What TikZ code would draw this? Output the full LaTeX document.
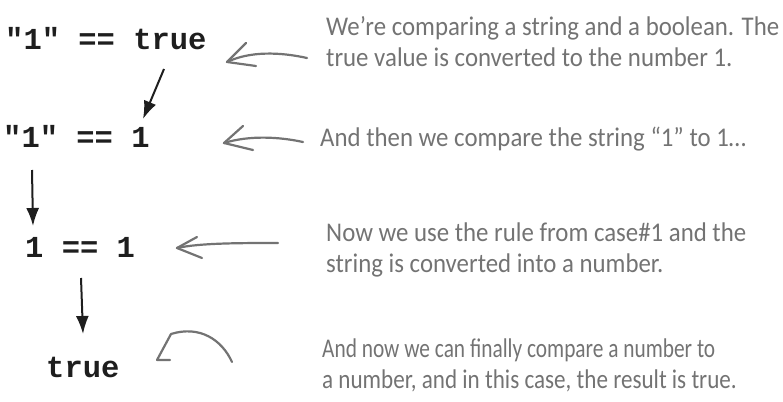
\documentclass[tikz,border=0pt]{standalone}
\usepackage{fontspec}
\usetikzlibrary{arrows.meta}
\newfontfamily\codefont{Liberation Mono}
\newfontfamily\annfont[FakeStretch=0.92]{Carlito}
\definecolor{anngray}{RGB}{115,115,115}
\definecolor{codeblack}{RGB}{30,30,30}
\tikzset{
  code/.style={anchor=base west, inner sep=0pt, text=codeblack,
    font=\codefont\bfseries\fontsize{30.5}{34}\selectfont},
  ann/.style={anchor=base west, inner sep=0pt, text=anngray, align=left,
    font=\annfont\fontsize{27}{31}\selectfont},
  blackarrow/.style={draw=codeblack, line width=2pt, -{Latex[length=18pt,width=13pt]}},
  grayline/.style={draw=anngray, line width=2.2pt, line cap=round, line join=round}
}
\begin{document}
\begin{tikzpicture}[x=1pt,y=-1pt]
\useasboundingbox (0,0) rectangle (783,401);
% code lines
\node[code] (c1) at (5,50) {"1" == true};
\node[code] (c2) at (3,147) {"1" == 1};
\node[code] (c3) at (25,257) {1 == 1};
\node[code] (c4) at (46,377) {true};
% annotations (anchored at the baseline of the last line)
\node[ann] (n1) at (326,67) {We’re comparing a string and a boolean. The\\true value is converted to the number 1.};
\node[ann] (n2) at (320,146) {And then we compare the string “1” to 1…};
\node[ann] (n3) at (326,272) {Now we use the rule from case\#1 and the\\string is converted into a number.};
\node[ann] (n4) at (322,388) {\scalebox{0.86}[1]{And now we can finally compare a number to}\\\scalebox{0.93}[1]{a number, and in this case, the result is true.}};
% black arrows
\coordinate (b1s) at (164,69);  \coordinate (b1e) at (143,119);
\coordinate (b2s) at (32,170);  \coordinate (b2e) at (33,226);
\coordinate (b3s) at (81,278);  \coordinate (b3e) at (83,334);
\draw[blackarrow] (b1s) -- (b1e);
\draw[blackarrow] (b2s) -- (b2e);
\draw[blackarrow] (b3s) -- (b3e);
% gray hand-drawn arrows
\coordinate (g1s) at (307,58); \coordinate (g1t) at (227,62);
\coordinate (g1a) at (246,43); \coordinate (g1b) at (256,66);
\draw[grayline] (g1s) .. controls (280,52) and (250,51) .. (g1t);
\draw[grayline] (g1a) -- (g1t) -- (g1b);
\coordinate (g2s) at (303,142); \coordinate (g2t) at (224,143);
\coordinate (g2a) at (243,126); \coordinate (g2b) at (253,150);
\draw[grayline] (g2s) .. controls (280,137) and (250,135) .. (g2t);
\draw[grayline] (g2a) -- (g2t) -- (g2b);
\coordinate (g3s) at (278,243); \coordinate (g3t) at (177,248);
\coordinate (g3a) at (197,237); \coordinate (g3b) at (202,258);
\draw[grayline] (g3s) .. controls (240,243) and (200,243) .. (g3t);
\draw[grayline] (g3a) -- (g3t) -- (g3b);
\coordinate (g4s) at (232,362); \coordinate (g4t) at (157,360);
\coordinate (g4a) at (171,334); \coordinate (g4b) at (170,360);
\draw[grayline] (g4s) .. controls (222,340) and (200,325) .. (g4a);
\draw[grayline] (g4a) -- (g4t) -- (g4b);
\end{tikzpicture}
\end{document}
